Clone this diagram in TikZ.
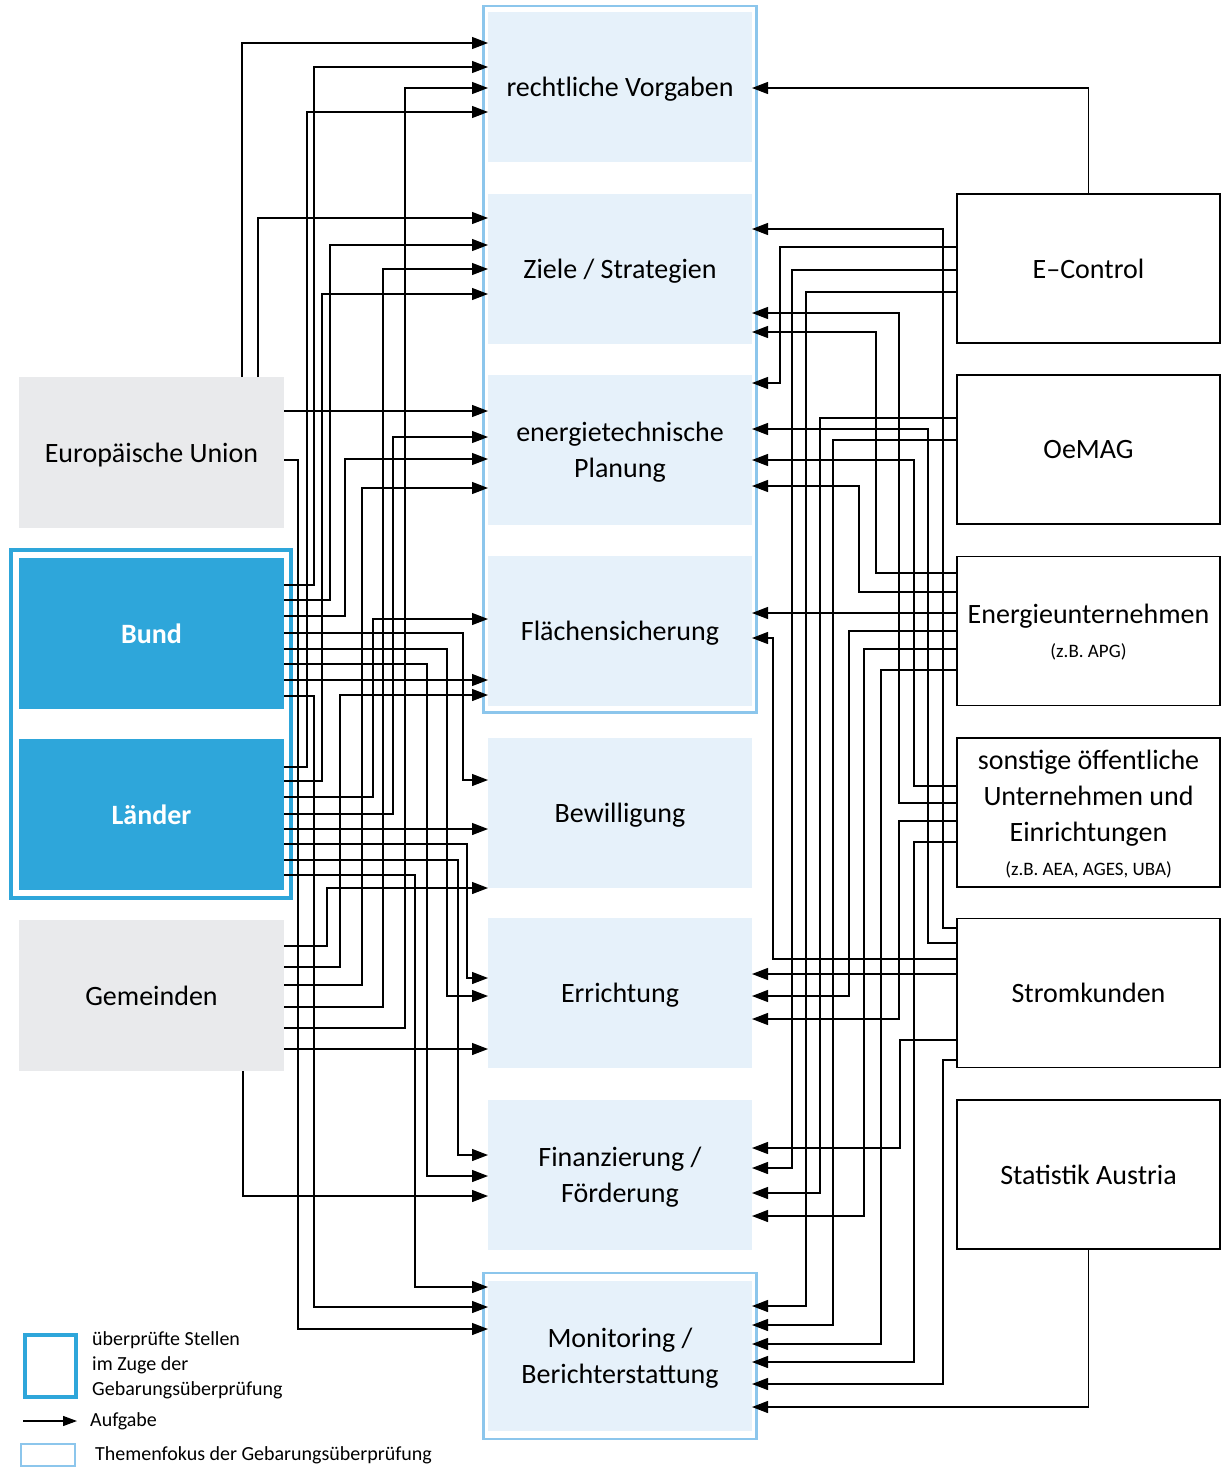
\documentclass[tikz,border=0pt]{standalone}
\usepackage{fontspec}
\setmainfont{Carlito}
\usetikzlibrary{arrows.meta}
\definecolor{bundblau}{HTML}{2EA6DA}
\definecolor{fokusrand}{HTML}{8CC6EC}
\definecolor{fokusfill}{HTML}{E6F1FA}
\definecolor{grau}{HTML}{E9EAEC}
\newcommand{\gross}{\fontsize{28}{36}\selectfont}
\newcommand{\klein}{\fontsize{19}{24}\selectfont}
\begin{document}
\begin{tikzpicture}[x=1pt,y=-1pt,
    thema/.style={fill=fokusfill,minimum width=264pt,minimum height=150pt,
      align=center,outer sep=0pt,inner sep=0pt,text depth=0pt,font=\gross},
    stelle/.style={fill=grau,minimum width=265pt,minimum height=151pt,
      align=center,outer sep=0pt,inner sep=0pt,text depth=0pt,font=\gross},
    geprueft/.style={stelle,fill=bundblau,text=white,font=\gross\bfseries},
    akteur/.style={draw,line width=1.3pt,minimum width=263pt,minimum height=149pt,
      align=center,outer sep=0pt,inner sep=0pt,text depth=0pt,font=\gross},
    aufgabe/.style={line width=1.2pt,-{Triangle[length=16pt,width=12pt]}},
    legtext/.style={anchor=west,align=left,inner sep=0pt,
      font=\fontsize{20}{25}\selectfont}]
  \useasboundingbox (0,0) rectangle (1221,1468);

  % Themen (Mitte)
  \node[thema] (rv) at (620,87)     {rechtliche Vorgaben};
  \node[thema] (zs) at (620,269)    {Ziele / Strategien};
  \node[thema] (ep) at (620,450)    {energietechnische\\Planung};
  \node[thema] (fs) at (620,631)    {Flächensicherung};
  \node[thema] (bw) at (620,812.5)  {Bewilligung};
  \node[thema] (er) at (620,993)    {Errichtung};
  \node[thema] (ff) at (620,1174.5) {Finanzierung /\\Förderung};
  \node[thema] (mo) at (620,1355.5) {Monitoring /\\Berichterstattung};
  \draw[fokusrand,line width=2.5pt] (483.5,6) rectangle (756.5,712.5);
  \draw[fokusrand,line width=2.5pt] (483.5,1273) rectangle (756.5,1439);

  % Stellen (links)
  \node[stelle]   (eu)      at (151.5,452.5) {Europäische Union};
  \node[geprueft] (bund)    at (151.5,633.5) {Bund};
  \node[geprueft] (laender) at (151.5,814.5) {Länder};
  \node[stelle]   (gem)     at (151.5,995.5) {Gemeinden};
  \draw[bundblau,line width=4pt] (11,550) rectangle (291,898);

  % Akteure (rechts)
  \node[akteur] (ec)    at (1088.5,268.5)  {E--Control};
  \node[akteur] (oemag) at (1088.5,449.5)  {OeMAG};
  \node[akteur] (eun)   at (1088.5,631)    {Energieunternehmen\\[-2pt]{\klein (z.B. APG)}};
  \node[akteur] (sonst) at (1088.5,812.5)  {sonstige öffentliche\\Unternehmen und\\Einrichtungen\\[-2pt]{\klein (z.B. AEA, AGES, UBA)}};
  \node[akteur] (sk)    at (1088.5,993)    {Stromkunden};
  \node[akteur] (sa)    at (1088.5,1174.5) {Statistik Austria};

  % Aufgaben links
  \foreach \von/\ya/\xv/\nach/\yb in {
      eu/460/298/mo/1329,
      bund/585/314/rv/67, bund/600/330/zs/245, bund/616/345/ep/459,
      bund/633/463/bw/780, bund/649/447/er/996, bund/664/427/ff/1176,
      bund/696/314/mo/1307,
      laender/767/307/rv/112, laender/781/322/zs/294, laender/797/373/fs/619,
      laender/814/393/ep/437, laender/844/467/er/978, laender/860/458/ff/1155,
      laender/875/415/mo/1287,
      gem/946/327/bw/888, gem/967/340/fs/695, gem/985/362/ep/488,
      gem/1007/383/zs/269, gem/1028/405/rv/88}
    \draw[aufgabe] (\von.east |- 0,\ya) -| (\xv,\yb) -- (\nach.west |- 0,\yb);
  \foreach \von/\ya/\nach in {eu/411/ep, bund/680/fs, laender/829/bw, gem/1049/er}
    \draw[aufgabe] (\von.east |- 0,\ya) -- (\nach.west |- 0,\ya);
  \draw[aufgabe] (eu.north -| 242,0) |- (rv.west |- 0,43);
  \draw[aufgabe] (eu.north -| 258,0) |- (zs.west |- 0,218);
  \draw[aufgabe] (gem.south -| 243,0) |- (ff.west |- 0,1196);

  % Aufgaben rechts
  \foreach \von/\ya/\xv/\nach/\yb in {
      ec/247/780/ep/383, ec/270/792/ff/1168, ec/292/806/mo/1306,
      oemag/418/820/ff/1193, oemag/440/833/mo/1325,
      eun/573/876/zs/332, eun/592/859/ep/486, eun/631/849/er/996,
      eun/649/864/ff/1216, eun/670/881/mo/1344,
      sonst/786/914/ep/460, sonst/803/899/zs/313, sonst/821/899/er/1019,
      sonst/842/914/mo/1362,
      sk/928/943/zs/229, sk/943/928/ep/429, sk/959/773/fs/638,
      sk/1040/900/ff/1148, sk/1060/943/mo/1384}
    \draw[aufgabe] (\von.west |- 0,\ya) -| (\xv,\yb) -- (\nach.east |- 0,\yb);
  \foreach \von/\ya/\nach in {eun/613/fs, sk/974/er}
    \draw[aufgabe] (\von.west |- 0,\ya) -- (\nach.east |- 0,\ya);
  \draw[aufgabe] (ec.north) |- (rv.east |- 0,88);
  \draw[aufgabe] (sa.south) |- (mo.east |- 0,1407);

  % Legende
  \draw[bundblau,line width=4pt] (25,1335) rectangle (76,1397);
  \node[legtext] (leg1) at (92,1365) {überprüfte Stellen\\im Zuge der\\Gebarungsüberprüfung};
  \coordinate (legA) at (23,1421);
  \coordinate (legB) at (77,1421);
  \draw[line width=1.2pt,-{Triangle[length=14pt,width=10pt]}] (legA) -- (legB);
  \node[legtext] (leg2) at (90,1421) {Aufgabe};
  \draw[fokusrand,line width=2pt] (21,1444) rectangle (75,1466);
  \node[legtext] (leg3) at (95,1455) {Themenfokus der Gebarungsüberprüfung};
\end{tikzpicture}
\end{document}
